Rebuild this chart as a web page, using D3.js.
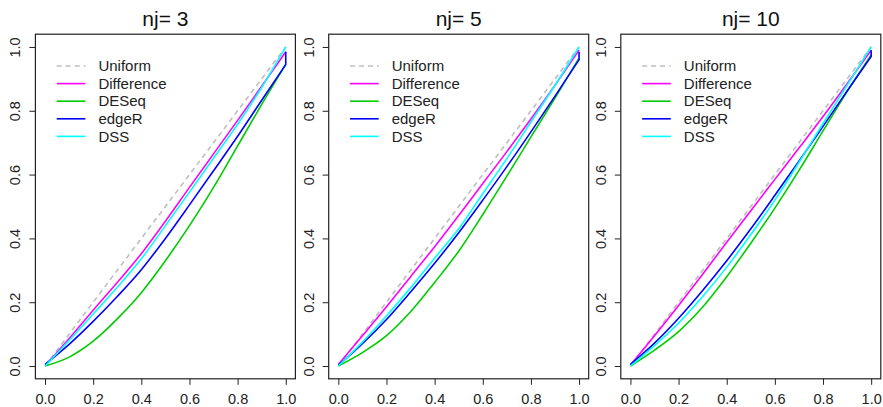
<!DOCTYPE html>
<html>
<head>
<meta charset="utf-8">
<title>nj panels</title>
<script src="https://cdn.jsdelivr.net/npm/d3@7"></script>
<style>
    body { margin: 0; background: #fff; }
    svg { display: block; font-family: "Liberation Sans", Arial, sans-serif; }
    .box { fill: none; stroke: #222; stroke-width: 1.2px; }
    .tick line { stroke: #222; stroke-width: 1px; }
    .tick text { fill: #222; font-size: 14.5px; }
    .title { font-size: 21px; fill: #111; text-anchor: middle; }
    .legend text { font-size: 15px; fill: #222; }
    .curve { fill: none; stroke-width: 1.6px; }
</style>
</head>
<body>
<script>
// grid of p-value thresholds the curves are read at
var xGrid = [0, 0.1, 0.2, 0.3, 0.4, 0.5, 0.6, 0.7, 0.8, 0.9, 1.0];

var panelTitles = ["nj= 3", "nj= 5", "nj= 10"];
var seriesNames = ["Uniform", "Difference", "DESeq", "edgeR", "DSS"];
var tickValues = [0, 0.2, 0.4, 0.6, 0.8, 1.0];

var uniform = [0, 0.1, 0.2, 0.3, 0.4, 0.5, 0.6, 0.7, 0.8, 0.9, 1.0];

// nj = 3
var diff3  = [0, 0.086, 0.175, 0.262, 0.352, 0.454, 0.56, 0.665, 0.77, 0.877, 0.985];
var deseq3 = [0, 0.028, 0.078, 0.148, 0.23, 0.33, 0.44, 0.56, 0.69, 0.82, 0.945];
var edger3 = [0.005, 0.068, 0.14, 0.218, 0.302, 0.4, 0.505, 0.612, 0.72, 0.833, 0.945];
var dss3   = [0, 0.08, 0.163, 0.247, 0.336, 0.44, 0.545, 0.652, 0.758, 0.873, 1.0];

// nj = 5
var diff5  = [0.005, 0.095, 0.186, 0.28, 0.374, 0.472, 0.572, 0.672, 0.774, 0.88, 0.99];
var deseq5 = [0, 0.042, 0.095, 0.17, 0.262, 0.36, 0.475, 0.595, 0.718, 0.84, 0.965];
var edger5 = [0.002, 0.07, 0.146, 0.232, 0.322, 0.418, 0.52, 0.625, 0.734, 0.846, 0.96];
var dss5   = [0, 0.075, 0.157, 0.245, 0.338, 0.43, 0.54, 0.65, 0.765, 0.88, 1.0];

// nj = 10
var diff10  = [0.003, 0.095, 0.19, 0.288, 0.388, 0.487, 0.585, 0.683, 0.782, 0.885, 0.99];
var deseq10 = [0, 0.05, 0.108, 0.185, 0.28, 0.385, 0.495, 0.613, 0.737, 0.86, 0.975];
var edger10 = [0.005, 0.072, 0.15, 0.237, 0.33, 0.43, 0.535, 0.642, 0.751, 0.862, 0.97];
var dss10   = [0, 0.064, 0.135, 0.218, 0.31, 0.412, 0.52, 0.638, 0.76, 0.88, 1.0];

// edgeR jumps up at p = 1
var edgerEnd = [0.985, 0.985, 0.99];

var panelSeries = [
    [uniform, diff3, deseq3, edger3, dss3],
    [uniform, diff5, deseq5, edger5, dss5],
    [uniform, diff10, deseq10, edger10, dss10]
];

var colors = ["#bebebe", "#ff00ff", "#00cd00", "#0000ff", "#00ffff"];

var width = 883, height = 407;
var panelLeft = [35.4, 328.7, 620.8], panelW = 260;
var plotTop = 34.2, plotBottom = 378.8;

var svg = d3.select("body").append("svg")
    .attr("width", width)
    .attr("height", height);

var line = d3.line().curve(d3.curveMonotoneX);

panelSeries.forEach(function (series, p) {
    var x0 = panelLeft[p];
    var x = d3.scaleLinear().domain([-0.04, 1.04]).range([x0, x0 + panelW]);
    var y = d3.scaleLinear().domain([-0.04, 1.04]).range([plotBottom, plotTop]);
    var g = svg.append("g");

    series.forEach(function (vals, i) {
        var pts = xGrid.map(function (v, k) { return [x(v), y(vals[k])]; });
        var d = line(pts);
        if (i == 3) d += "L" + x(1) + "," + y(edgerEnd[p]);
        g.append("path")
            .attr("class", "curve")
            .attr("d", d)
            .attr("stroke", colors[i])
            .attr("stroke-dasharray", i == 0 ? "5,4" : null);
    });

    g.append("g")
        .attr("transform", "translate(0," + plotBottom + ")")
        .call(d3.axisBottom(x).tickValues(tickValues).tickFormat(d3.format(".1f")).tickSize(6).tickPadding(9))
        .call(function (a) { a.select(".domain").remove(); });

    var ya = g.append("g")
        .attr("transform", "translate(" + x0 + ",0)")
        .call(d3.axisLeft(y).tickValues(tickValues).tickFormat(d3.format(".1f")).tickSize(6))
        .call(function (a) { a.select(".domain").remove(); });
    ya.selectAll(".tick text")
        .attr("x", null)
        .attr("text-anchor", "middle")
        .attr("transform", "translate(-20,0) rotate(-90)")
        .attr("dy", "0.35em");

    g.append("rect")
        .attr("class", "box")
        .attr("x", x0).attr("y", plotTop)
        .attr("width", panelW).attr("height", plotBottom - plotTop);

    g.append("text")
        .attr("class", "title")
        .attr("x", x0 + panelW / 2)
        .attr("y", 26)
        .text(panelTitles[p]);

    var leg = g.append("g").attr("class", "legend");
    seriesNames.forEach(function (name, i) {
        var ly = 66 + i * 17.6;
        leg.append("line")
            .attr("x1", x0 + 21.3).attr("x2", x0 + 50)
            .attr("y1", ly).attr("y2", ly)
            .attr("stroke", colors[i])
            .attr("stroke-width", 1.6)
            .attr("stroke-dasharray", i == 0 ? "5,4" : null);
        leg.append("text")
            .attr("x", x0 + 63).attr("y", ly)
            .attr("dy", "0.35em")
            .text(name);
    });
});
</script>
</body>
</html>
